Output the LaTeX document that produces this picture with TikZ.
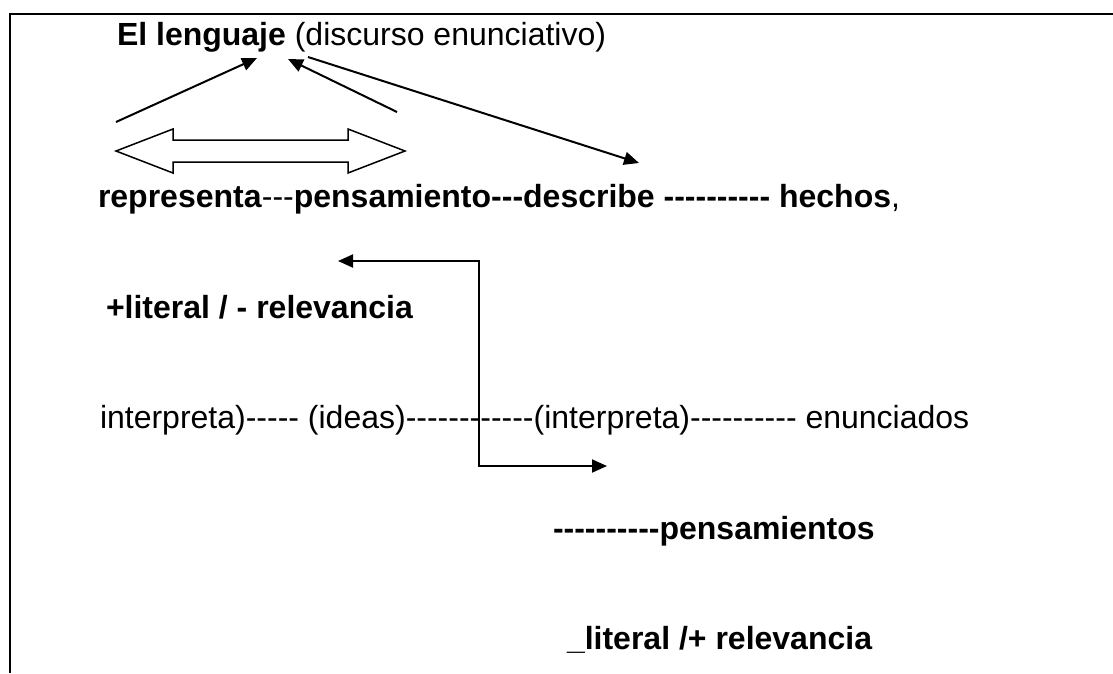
\documentclass[tikz,border=0pt]{standalone}
\usepackage{fontspec}
\newfontfamily\arial{Liberation Sans}
\usetikzlibrary{arrows.meta}
\newcommand\hy[1]{\foreach \i in {1,...,#1}{-\kern0pt}}
\begin{document}
\begin{tikzpicture}[x=1pt,y=-1pt,
  font=\arial\fontsize{32}{38}\selectfont,
  txt/.style={anchor=base west, inner sep=0pt, outer sep=0pt},
  conn/.style={line width=2pt, -{Triangle[length=15pt,width=13pt]}},
  elbow/.style={line width=2pt, {Triangle[length=15pt,width=13pt]}-{Triangle[length=15pt,width=13pt]}},
  framebar/.style={line width=2.5pt},
  blockarrow/.style={line width=1.5pt, fill=white}]
\useasboundingbox (0,0) rectangle (1113,673);
\draw[framebar] (10,673) -- (10,14) -- (1113,14);

\node[txt] (title) at (117,45) {\textbf{El lenguaje} (discurso enunciativo)};
\node[txt] (row2) at (98,207) {\textbf{representa}\hy{3}\textbf{pensamiento\hy{3}describe \hy{10} hechos},};
\node[txt] (row3) at (106,318) {\textbf{+literal / - relevancia}};
\node[txt] (row4) at (100,428) {interpreta)\hy{5} (ideas)\hy{12}(interpreta)\hy{10} enunciados};
\node[txt] (row5) at (553,539) {\textbf{\hy{10}pensamientos}};
\node[txt] (row6) at (567,649) {\textbf{\_literal /+ relevancia}};

\coordinate (a1s) at (116,122);
\coordinate (a1e) at (257,58);
\coordinate (a2s) at (397,112);
\coordinate (a2e) at (288,59);
\coordinate (a3s) at (308,57);
\coordinate (a3e) at (639,163);
\draw[conn] (a1s) -- (a1e);
\draw[conn] (a2s) -- (a2e);
\draw[conn] (a3s) -- (a3e);

\coordinate (e1) at (338,261);
\coordinate (e2) at (607,466);
\draw[elbow] (e1) -- (479,261) -- (479,466) -- (e2);

\draw[blockarrow] (116,151) -- (173,129) -- (173,140) -- (348,140) -- (348,129)
  -- (405,151) -- (348,173) -- (348,162) -- (173,162) -- (173,173) -- cycle;
\end{tikzpicture}
\end{document}
